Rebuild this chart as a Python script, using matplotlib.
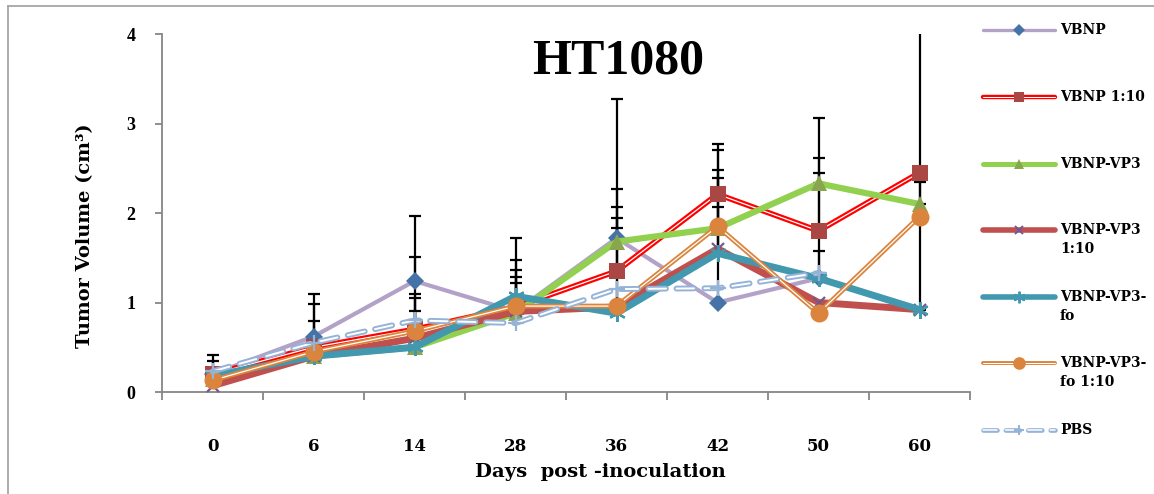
import matplotlib
matplotlib.use("Agg")
import matplotlib.pyplot as plt
import numpy as np

nan = np.nan

# data
days = ['0', '6', '14', '28', '36', '42', '50', '60']
yticks = [0, 1, 2, 3, 4]

vbnp = [0.20, 0.62, 1.24, 0.90, 1.72, 1.00, 1.27, nan]
vbnp_err = [0.21, 0.48, 0.73, 0.82, 1.55, 1.07, 0, 0]
vbnp110 = [0.20, 0.50, 0.70, 0.95, 1.35, 2.21, 1.80, 2.45]
vbnp110_err = [0.15, 0.48, 0.81, 0.52, 0.92, 0.56, 0.82, 0]
vp3 = [0.15, 0.40, 0.50, 0.88, 1.68, 1.83, 2.33, 2.10]
vp3_err = [0, 0, 0.55, 0.48, 0.39, 0.87, 0.73, 0.25]
vp3110 = [0.07, 0.40, 0.60, 0.90, 0.95, 1.60, 1.00, 0.92]
vp3110_err = [0, 0, 0.50, 0.39, 0.99, 0.88, 0, 3.5]
fo = [0.18, 0.40, 0.50, 1.07, 0.88, 1.55, 1.27, 0.92]
fo_err = [0, 0, 0.41, 0.15, 0, 0.84, 0.31, 0]
fo110 = [0.13, 0.45, 0.68, 0.96, 0.96, 1.85, 0.88, 1.96]
fo110_err = [0, 0, 0, 0, 0.87, 0, 0, 0]
pbs = [0.23, 0.55, 0.80, 0.77, 1.15, 1.16, 1.33, nan]
pbs_err = [0, 0.24, 0, 0, 0, 0, 1.12, 0]

labels = ['VBNP', 'VBNP 1:10', 'VBNP-VP3', 'VBNP-VP3\n1:10', 'VBNP-VP3-\nfo', 'VBNP-VP3-\nfo 1:10', 'PBS']

# style for each series: line colour, line width, inner white line, dashes, marker, marker colour, marker size
styles = [
    dict(lc='#B3A2C7', lw=3.0, inner=None, dash=None, m='D', mc='#4572A7', ms=9),
    dict(lc='#FF0000', lw=4.0, inner=0.9, dash=None, m='s', mc='#AA4643', ms=11),
    dict(lc='#92D050', lw=4.5, inner=None, dash=None, m='^', mc='#89A54E', ms=11),
    dict(lc='#C0504D', lw=5.0, inner=None, dash=None, m='x', mc='#71588F', ms=9),
    dict(lc='#4198AF', lw=5.0, inner=None, dash=None, m=(6, 2, 0), mc='#4198AF', ms=12),
    dict(lc='#DB843D', lw=3.5, inner=0.9, dash=None, m='o', mc='#DB843D', ms=13),
    dict(lc='#95B3D7', lw=4.2, inner=1.4, dash=(3, 1.8), m='+', mc='#95B3D7', ms=11),
]

series = [vbnp, vbnp110, vp3, vp3110, fo, fo110, pbs]
errors = [vbnp_err, vbnp110_err, vp3_err, vp3110_err, fo_err, fo110_err, pbs_err]

fig = plt.figure(figsize=(11.54, 4.94), dpi=100)
ax = fig.add_axes([162 / 1154, 1 - 392 / 494, 808 / 1154, 358 / 494])

x = np.arange(len(days))

# error bars (upper only)
for vals, err in zip(series, errors):
    vals = np.array(vals)
    err = np.array(err)
    keep = err > 0
    ax.errorbar(x[keep], vals[keep], yerr=[np.zeros(keep.sum()), err[keep]], fmt='none',
                ecolor='black', elinewidth=1.6, capsize=4.5, capthick=1.6, zorder=2)

# lines + markers
for i, (vals, st) in enumerate(zip(series, styles)):
    z = 3 + i
    kw = dict(solid_capstyle='round', dash_capstyle='round')
    line, = ax.plot(x, vals, color=st['lc'], lw=st['lw'], zorder=z, **kw)
    if st['dash']:
        line.set_dashes(st['dash'])
    if st['inner']:
        inner, = ax.plot(x, vals, color='white', lw=st['inner'], zorder=z + 0.1, **kw)
        if st['dash']:
            inner.set_dashes([d * st['lw'] / st['inner'] for d in st['dash']])
    mew = 1.6 if st['m'] in ('x', '+', (6, 2, 0)) else 0
    ax.plot(x, vals, ls='none', marker=st['m'], ms=st['ms'], color=st['mc'],
            mew=mew, zorder=z + 0.2)

ax.set_xlim(-0.5, len(days) - 0.5)
ax.set_ylim(0, 4)
ax.set_yticks(yticks)
ax.set_yticklabels([str(v) for v in yticks], fontfamily='Liberation Serif', fontweight='bold', fontsize=13)
ax.set_xticks(np.arange(len(days) + 1) - 0.5)
ax.set_xticklabels([])
ax.set_xticks(x, minor=True)
ax.set_xticklabels(days, minor=True, fontfamily='DejaVu Serif', fontweight='bold', fontsize=12)
ax.tick_params(axis='x', which='minor', length=0, pad=33)
ax.tick_params(axis='x', which='major', length=6, color='#868686', width=1.3, direction='out')
ax.tick_params(axis='y', length=5, color='#868686', width=1.3, direction='out', pad=14)

for s in ['top', 'right']:
    ax.spines[s].set_visible(False)
for s in ['left', 'bottom']:
    ax.spines[s].set_color('#868686')
    ax.spines[s].set_linewidth(1.3)

fig.text(85 / 1154, 1 - 236 / 494, 'Tumor Volume (cm³)', rotation=90, ha='center', va='center',
         fontfamily='DejaVu Serif', fontweight='bold', fontsize=14)
fig.text(600 / 1154, 1 - 472 / 494, 'Days  post -inoculation', ha='center', va='center',
         fontfamily='DejaVu Serif', fontweight='bold', fontsize=14)
fig.text(618 / 1154, 1 - 62 / 494, 'HT1080', ha='center', va='center',
         fontfamily='Liberation Serif', fontweight='bold', fontsize=36)

# overlay in pixel units for the frame and legend
ov = fig.add_axes([0, 0, 1, 1], zorder=-1)
ov.set_xlim(0, 1154)
ov.set_ylim(494, 0)
ov.axis('off')
ov.plot([8, 1154], [6, 6], color='#A6A6A6', lw=1.3)
ov.plot([8, 8], [6, 494], color='#A6A6A6', lw=1.3)

leg = fig.add_axes([0, 0, 1, 1], zorder=5)
leg.set_xlim(0, 1154)
leg.set_ylim(494, 0)
leg.axis('off')
ypos = [30, 97, 164, 230, 297, 363, 430]
for lab, st, yy in zip(labels, styles, ypos):
    kw = dict(solid_capstyle='round', dash_capstyle='round')
    l, = leg.plot([983, 1055], [yy, yy], color=st['lc'], lw=st['lw'] * 0.8, **kw)
    if st['dash']:
        l.set_dashes(st['dash'])
    if st['inner']:
        il, = leg.plot([983, 1055], [yy, yy], color='white', lw=st['inner'] * 0.8, **kw)
        if st['dash']:
            il.set_dashes([d * st['lw'] / st['inner'] for d in st['dash']])
    mew = 1.4 if st['m'] in ('x', '+', (6, 2, 0)) else 0
    leg.plot([1019], [yy], ls='none', marker=st['m'], ms=st['ms'] * 0.7, color=st['mc'], mew=mew)
    for k, part in enumerate(lab.split('\n')):
        leg.text(1060, yy + 19 * k, part, ha='left', va='center',
                 fontfamily='DejaVu Serif', fontweight='bold', fontsize=10)

fig.savefig('out.png', dpi=100)
